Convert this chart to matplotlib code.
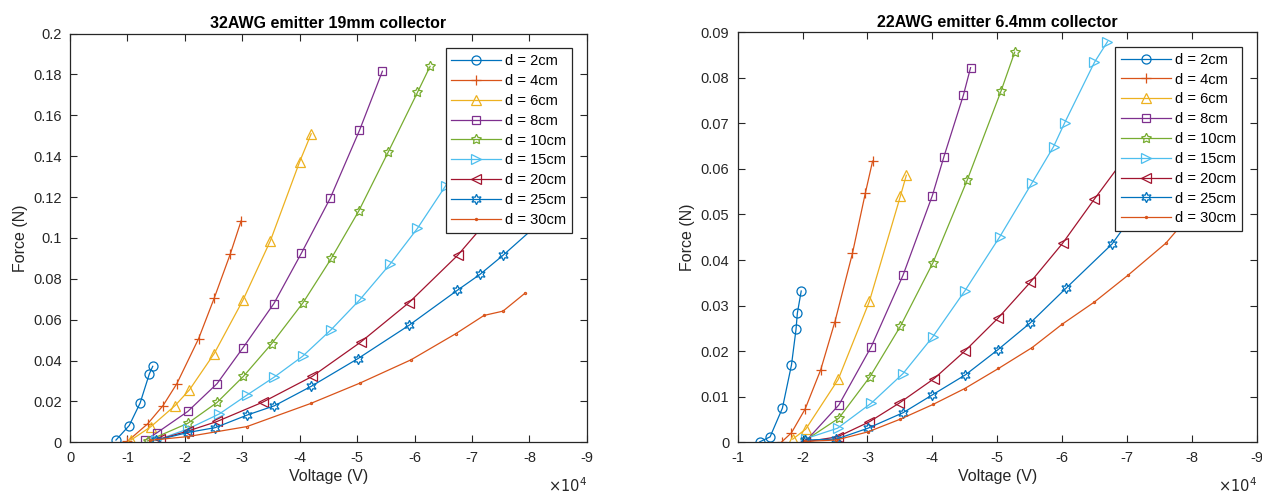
import matplotlib
matplotlib.use("Agg")
import matplotlib.pyplot as plt
from matplotlib.ticker import FuncFormatter, MultipleLocator

plt.rcParams['font.family'] = ['Liberation Sans', 'DejaVu Sans']
plt.rcParams['axes.unicode_minus'] = False

labels = ['d = 2cm', 'd = 4cm', 'd = 6cm', 'd = 8cm', 'd = 10cm',
          'd = 15cm', 'd = 20cm', 'd = 25cm', 'd = 30cm']

# 32AWG emitter, 19mm collector: voltage (V) and force (N) per distance
left_v = [
    [-8000, -10300, -12200, -13800, -14400],
    [-10000, -13500, -16200, -18600, -22400, -25100, -27900, -29800],
    [-10600, -14100, -18300, -20800, -25100, -30100, -34900, -40000, -42000],
    [-13100, -15200, -20500, -25600, -30100, -35500, -40300, -45300, -50400, -54400],
    [-13500, -20500, -25600, -30200, -35100, -40600, -45500, -50300, -55400, -60500, -62700],
    [-15000, -20500, -26000, -30900, -35600, -40500, -45500, -50500, -55700, -60500, -65400, -70000],
    [-15700, -20500, -25600, -33600, -42200, -50600, -59000, -67500, -75000],
    [-15000, -20500, -25300, -30900, -35600, -42000, -50100, -59000, -67400, -71400, -75400, -84000],
    [-14000, -20500, -30800, -41900, -50500, -59400, -67200, -72100, -75400, -79200],
]
left_f = [
    [0.0011, 0.0082, 0.0192, 0.0334, 0.0372],
    [0.0005, 0.0090, 0.0180, 0.0287, 0.0508, 0.0705, 0.0921, 0.1084],
    [0.0011, 0.0077, 0.0180, 0.0257, 0.0434, 0.0695, 0.0987, 0.1374, 0.1510],
    [0.0011, 0.0048, 0.0151, 0.0287, 0.0462, 0.0679, 0.0926, 0.1194, 0.1526, 0.1816],
    [0.0007, 0.0093, 0.0195, 0.0323, 0.0482, 0.0684, 0.0900, 0.1133, 0.1420, 0.1712, 0.1840],
    [0.0010, 0.0065, 0.0139, 0.0233, 0.0320, 0.0421, 0.0552, 0.0699, 0.0871, 0.1047, 0.1255, 0.1480],
    [0.0016, 0.0055, 0.0102, 0.0197, 0.0323, 0.0490, 0.0683, 0.0915, 0.1160],
    [0.0010, 0.0048, 0.0072, 0.0134, 0.0179, 0.0274, 0.0409, 0.0572, 0.0743, 0.0822, 0.0915, 0.1130],
    [0.0010, 0.0028, 0.0077, 0.0190, 0.0290, 0.0404, 0.0532, 0.0621, 0.0642, 0.0729],
]

# 22AWG emitter, 6.4mm collector
right_v = [
    [-13400, -15000, -16900, -18300, -19000, -19200, -19800],
    [-16800, -18300, -20400, -22800, -25000, -27700, -29700, -30800],
    [-18500, -20500, -25500, -30300, -35100, -36000],
    [-20400, -25600, -30600, -35500, -40000, -41800, -44800, -45900],
    [-20400, -25600, -30400, -35100, -40100, -45400, -50600, -52700],
    [-20500, -25400, -30600, -35500, -40100, -45000, -50400, -55400, -58700, -60400, -65000, -67000],
    [-20400, -25400, -30300, -34900, -40300, -45000, -50100, -55100, -60100, -65000, -70000],
    [-20400, -25200, -30100, -35500, -40000, -45100, -50100, -55100, -60600, -67700, -72500],
    [-20400, -25200, -30100, -35100, -40100, -45000, -50200, -55400, -60000, -65000, -70200, -76000, -81000],
]
right_f = [
    [0.0001, 0.0012, 0.0075, 0.0170, 0.0248, 0.0283, 0.0332],
    [0.0001, 0.0021, 0.0073, 0.0159, 0.0265, 0.0415, 0.0548, 0.0617],
    [0.0007, 0.0029, 0.0138, 0.0309, 0.0541, 0.0586],
    [0.0001, 0.0082, 0.0210, 0.0367, 0.0541, 0.0627, 0.0762, 0.0822],
    [0.0004, 0.0053, 0.0144, 0.0255, 0.0394, 0.0576, 0.0771, 0.0856],
    [0.0008, 0.0031, 0.0086, 0.0151, 0.0232, 0.0332, 0.0451, 0.0570, 0.0649, 0.0701, 0.0834, 0.0879],
    [0.0001, 0.0012, 0.0045, 0.0086, 0.0140, 0.0200, 0.0272, 0.0351, 0.0437, 0.0534, 0.0630],
    [0.0005, 0.0007, 0.0031, 0.0065, 0.0104, 0.0148, 0.0203, 0.0262, 0.0338, 0.0435, 0.0530],
    [0.0002, 0.0005, 0.0023, 0.0051, 0.0083, 0.0118, 0.0162, 0.0208, 0.0259, 0.0308, 0.0367, 0.0437, 0.0520],
]

# MATLAB default colour order
colors = ['#0072BD', '#D95319', '#EDB120', '#7E2F8E', '#77AC30',
          '#4DBEEE', '#A2142F', '#0072BD', '#D95319']
markers = ['o', '+', '^', 's', (5, 1, 0), '>', '<', (6, 1, 0), '.']
msizes = [6.5, 7.5, 7.5, 6, 7.5, 7.5, 7.5, 7.5, 3]

axis_col = '#262626'


def draw(ax, vs, fs, title, xlim, ylim, ystep):
    for i in range(len(labels)):
        ax.plot(vs[i], fs[i], color=colors[i], marker=markers[i], ms=msizes[i],
                mfc='none', mew=0.9, lw=0.9, label=labels[i])
    ax.set_xlim(*xlim)
    ax.set_ylim(*ylim)
    ax.xaxis.set_major_locator(MultipleLocator(10000))
    ax.yaxis.set_major_locator(MultipleLocator(ystep))
    ax.xaxis.set_major_formatter(FuncFormatter(lambda v, _: f'{v / 1e4:g}'))
    ax.yaxis.set_major_formatter(FuncFormatter(lambda v, _: f'{round(v, 4):g}'))
    ax.tick_params(direction='in', length=5, width=0.8, top=True, right=True,
                   labelsize=10.5, colors=axis_col, pad=6)
    for s in ax.spines.values():
        s.set_color(axis_col)
        s.set_linewidth(0.9)
    ax.set_title(title, fontsize=11.5, fontweight='bold', pad=4)
    ax.set_xlabel('Voltage (V)', fontsize=11.5, color=axis_col, labelpad=3)
    ax.set_ylabel('Force (N)', fontsize=11.5, color=axis_col, labelpad=4)
    ax.text(1.0, -0.082, r'$\times10^{4}$', transform=ax.transAxes,
            ha='right', va='top', fontsize=10.5, color=axis_col)
    leg = ax.legend(loc='upper right', bbox_to_anchor=(0.972, 0.964),
                    borderaxespad=0, fontsize=10.5, handlelength=3.4,
                    labelspacing=0.4, handletextpad=0.3, borderpad=0.4,
                    fancybox=False, framealpha=1, edgecolor=axis_col)
    leg.get_frame().set_linewidth(0.9)


fig = plt.figure(figsize=(12.62, 4.93), dpi=100)
ax1 = fig.add_axes([0.0555, 0.1028, 0.4095, 0.829])
ax2 = fig.add_axes([0.5845, 0.1028, 0.4113, 0.832])

draw(ax1, left_v, left_f, '32AWG emitter 19mm collector', (0, -90000), (0, 0.2), 0.02)
draw(ax2, right_v, right_f, '22AWG emitter 6.4mm collector', (-10000, -90000), (0, 0.09), 0.01)

fig.savefig('out.png', dpi=100)
